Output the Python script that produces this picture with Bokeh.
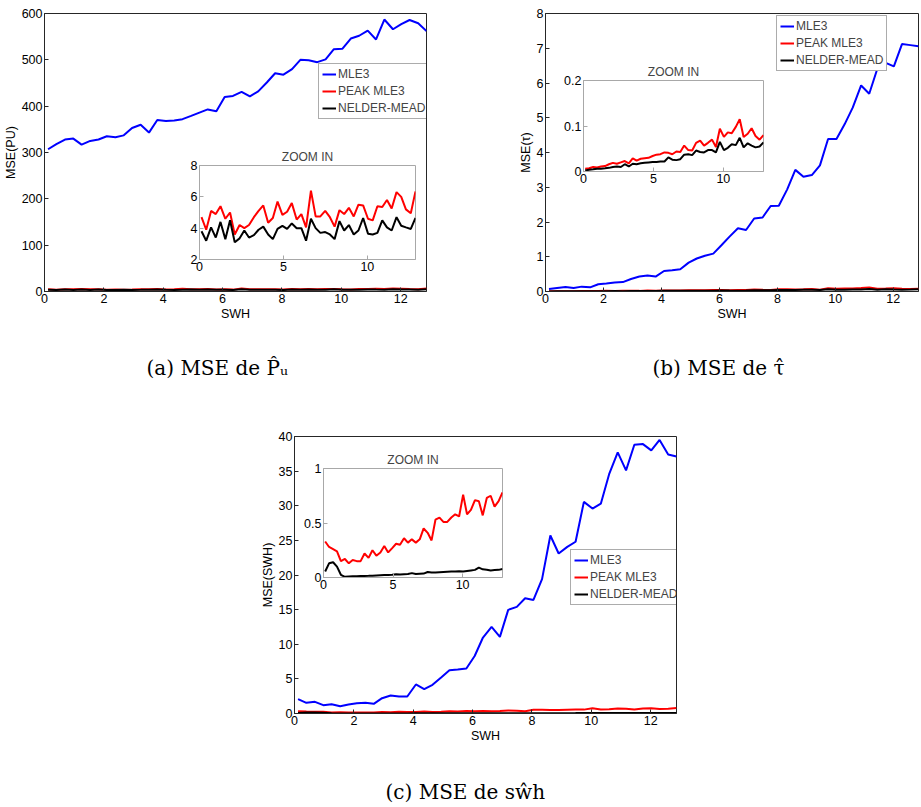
from bokeh.plotting import figure
from bokeh.models import (Range1d, Legend, LegendItem, Label,
                          FixedTicker, NumeralTickFormatter, Spacer)
from bokeh.layouts import column
from bokeh.embed import file_html
from bokeh.resources import INLINE

# ---------------- data ----------------
SWH = [0.12, 0.40, 0.69, 0.97, 1.25, 1.54, 1.82, 2.10, 2.39, 2.67, 2.95, 3.24,
       3.52, 3.80, 4.09, 4.37, 4.65, 4.94, 5.22, 5.50, 5.79, 6.07, 6.35, 6.64,
       6.92, 7.20, 7.49, 7.77, 8.05, 8.34, 8.62, 8.90, 9.19, 9.47, 9.75, 10.04,
       10.32, 10.60, 10.89, 11.17, 11.45, 11.74, 12.02, 12.30, 12.59, 12.87]

# (a) MSE of Pu
A_MLE3 = [307, 318, 328, 330, 317, 325, 328, 335, 333, 337, 353, 360, 343, 370,
          368, 369, 372, 379, 386, 393, 389, 420, 422, 431, 421, 432, 451, 471,
          468, 480, 500, 499, 495, 501, 523, 524, 546, 552, 563, 544, 587, 566,
          577, 586, 579, 562]
A_PEAK = [4.7, 3.9, 5.1, 4.9, 5.4, 4.6, 5.0, 3.6, 4.2, 4.0, 4.2, 4.7, 5.1, 5.45,
          4.35, 4.65, 5.7, 4.85, 5.05, 5.6, 4.55, 4.9, 4.05, 6.4, 4.75, 4.75, 5.1,
          4.7, 4.1, 5.15, 4.9, 5.3, 4.75, 5.5, 5.45, 4.6, 4.5, 5.4, 5.35, 5.8,
          5.25, 6.3, 6.0, 5.2, 4.95, 6.35]
A_NM = [3.8, 3.2, 4.05, 3.4, 4.4, 3.3, 4.5, 3.1, 3.35, 3.85, 3.4, 3.55, 3.9, 4.1,
        3.6, 3.3, 3.95, 4.15, 3.95, 4.3, 4.0, 4.0, 3.2, 4.6, 4.0, 3.7, 3.75, 3.6,
        3.3, 4.45, 3.85, 4.2, 3.6, 3.85, 4.65, 3.65, 3.6, 3.7, 4.5, 4.05, 3.85,
        4.7, 4.15, 4.05, 3.95, 4.65]

# (b) MSE of tau
B_MLE3 = [0.07, 0.10, 0.13, 0.10, 0.14, 0.12, 0.21, 0.23, 0.26, 0.27, 0.36, 0.43,
          0.46, 0.43, 0.59, 0.61, 0.64, 0.83, 0.95, 1.03, 1.09, 1.33, 1.58, 1.82,
          1.77, 2.10, 2.13, 2.46, 2.47, 2.94, 3.50, 3.30, 3.35, 3.63, 4.39, 4.39,
          4.81, 5.29, 5.93, 5.69, 6.41, 6.58, 6.48, 7.12, 7.09, 7.06]
B_PEAK = [0.006, 0.007, 0.010, 0.009, 0.011, 0.012, 0.016, 0.019, 0.017, 0.020,
          0.023, 0.018, 0.029, 0.024, 0.028, 0.029, 0.030, 0.034, 0.037, 0.038,
          0.042, 0.041, 0.038, 0.044, 0.043, 0.057, 0.047, 0.046, 0.063, 0.068,
          0.057, 0.063, 0.070, 0.054, 0.094, 0.076, 0.086, 0.084, 0.098, 0.115,
          0.076, 0.083, 0.095, 0.078, 0.070, 0.080]
B_NM = [0.002, 0.004, 0.005, 0.006, 0.006, 0.007, 0.008, 0.010, 0.011, 0.010,
        0.016, 0.011, 0.017, 0.016, 0.018, 0.019, 0.020, 0.021, 0.021, 0.022,
        0.022, 0.031, 0.026, 0.025, 0.027, 0.037, 0.038, 0.036, 0.046, 0.043,
        0.042, 0.047, 0.047, 0.042, 0.065, 0.047, 0.052, 0.060, 0.058, 0.074,
        0.053, 0.062, 0.057, 0.053, 0.055, 0.064]

# (c) MSE of swh
C_MLE3 = [2.07, 1.54, 1.68, 1.20, 1.35, 1.06, 1.30, 1.49, 1.54, 1.40, 2.21, 2.60,
          2.45, 2.45, 4.19, 3.51, 4.14, 5.20, 6.26, 6.35, 6.50, 8.30, 10.97, 12.50,
          11.07, 14.97, 15.40, 16.65, 16.40, 19.40, 25.70, 23.10, 24.06, 24.80,
          30.56, 29.60, 30.30, 34.55, 37.70, 35.10, 38.80, 38.90, 38.00, 39.50,
          37.40, 37.10]
C_PEAK = [0.33, 0.28, 0.26, 0.24, 0.15, 0.17, 0.13, 0.16, 0.15, 0.15, 0.22, 0.18,
          0.25, 0.20, 0.23, 0.29, 0.23, 0.27, 0.31, 0.30, 0.36, 0.32, 0.35, 0.32,
          0.35, 0.45, 0.41, 0.34, 0.53, 0.55, 0.51, 0.51, 0.55, 0.58, 0.56, 0.76,
          0.58, 0.62, 0.71, 0.70, 0.57, 0.73, 0.75, 0.65, 0.70, 0.78]
C_NM = [0.055, 0.13, 0.14, 0.10, 0.025, 0.006, 0.010, 0.012, 0.012, 0.013, 0.014,
        0.015, 0.016, 0.018, 0.020, 0.022, 0.024, 0.025, 0.030, 0.028, 0.030,
        0.032, 0.040, 0.032, 0.035, 0.036, 0.050, 0.045, 0.045, 0.048, 0.050,
        0.052, 0.054, 0.055, 0.058, 0.055, 0.060, 0.065, 0.070, 0.090, 0.075,
        0.072, 0.065, 0.068, 0.070, 0.078]

SERIES_NAMES = ["MLE3", "PEAK MLE3", "NELDER-MEAD"]
SERIES_COLORS = ["#0000ff", "#ff0000", "#000000"]
X_MAX = 12.87
MAIN_XTICKS = [0, 2, 4, 6, 8, 10, 12]
INSET_XTICKS = [0, 5, 10]
A_YTICKS = [0, 100, 200, 300, 400, 500, 600]
B_YTICKS = [0, 1, 2, 3, 4, 5, 6, 7, 8]
C_YTICKS = [0, 5, 10, 15, 20, 25, 30, 35, 40]
A_INSET_YTICKS = [2, 4, 6, 8]
B_INSET_YTICKS = [0, 0.1, 0.2]
C_INSET_YTICKS = [0, 0.5, 1]
X_LABEL = "SWH"
INSET_TITLE = "ZOOM IN"
CAPTIONS = ["(a)  MSE de P\u0302\u1d64", "(b)  MSE de \u03c4\u0302",
            "(c)  MSE de s\u0175h"]

FONT = "Liberation Sans"
SERIF = "DejaVu Serif"
MBL = 50   # left border shared by every figure (the column aligns frames)
MBR = 2    # right border shared by every figure


def place(p, page_left, page_top):
    p.styles = {"position": "absolute", "left": f"{page_left}px",
                "top": f"{page_top}px"}


def style_axis(ax, ticks, color, fmt=None):
    ax.ticker = FixedTicker(ticks=ticks)
    ax.axis_line_color = color
    ax.major_tick_line_color = color
    ax.major_tick_in = 4
    ax.major_tick_out = 0
    ax.minor_tick_line_color = None
    ax.major_label_text_font = FONT
    ax.major_label_text_font_size = "12.5px"
    ax.major_label_text_color = "black"
    ax.major_label_standoff = 2
    ax.axis_label_text_font = FONT
    ax.axis_label_text_font_size = "12.5px"
    ax.axis_label_text_font_style = "normal"
    ax.axis_label_text_color = "black"
    ax.axis_label_standoff = 1
    if fmt is not None:
        ax.formatter = fmt


def main_plot(fl, ft, fw, fh, ymax, yticks, ylabel, series, legend_xy):
    mbt, mbb = 10, 40
    p = figure(frame_width=fw, frame_height=fh, x_range=Range1d(0, X_MAX),
               y_range=Range1d(0, ymax), min_border_left=MBL, min_border_top=mbt,
               min_border_right=MBR, min_border_bottom=mbb,
               output_backend="svg", toolbar_location=None,
               background_fill_color="white", border_fill_color=None,
               outline_line_color="#262626")
    p.xgrid.visible = False
    p.ygrid.visible = False
    style_axis(p.xaxis[0], MAIN_XTICKS, "#262626")
    style_axis(p.yaxis[0], yticks, "#262626")
    p.xaxis[0].axis_label = X_LABEL
    p.yaxis[0].axis_label = ylabel
    rends = [p.line(SWH, ys, line_color=c, line_width=2)
             for ys, c in zip(series, SERIES_COLORS)]
    leg = Legend(items=[LegendItem(label=n, renderers=[r])
                        for n, r in zip(SERIES_NAMES, rends)],
                 location=legend_xy, glyph_width=14, glyph_height=14,
                 label_standoff=2, padding=3, spacing=3, margin=0,
                 label_height=14, label_text_font=FONT,
                 label_text_font_size="12px", border_line_color="#5a5a5a",
                 border_line_width=1, background_fill_color="white",
                 background_fill_alpha=1.0)
    p.add_layout(leg)
    place(p, fl - MBL, ft - mbt)
    return p


def inset_plot(fl, ft, fw, fh, ymin, ymax, yticks, series, fmt=None):
    mbt, mbb = 26, 22
    q = figure(frame_width=fw, frame_height=fh, x_range=Range1d(0, X_MAX),
               y_range=Range1d(ymin, ymax), min_border_left=MBL,
               min_border_top=mbt, min_border_right=MBR, min_border_bottom=mbb,
               output_backend="svg", toolbar_location=None, title=INSET_TITLE,
               background_fill_color="white", border_fill_color=None,
               outline_line_color="#a8a8a8")
    q.title.align = "center"
    q.title.text_font = FONT
    q.title.text_font_size = "12px"
    q.title.text_font_style = "normal"
    q.title.standoff = 4
    q.xgrid.visible = False
    q.ygrid.visible = False
    style_axis(q.xaxis[0], INSET_XTICKS, "#a8a8a8")
    style_axis(q.yaxis[0], yticks, "#a8a8a8", fmt=fmt)
    for ys, c in zip(series[1:], SERIES_COLORS[1:]):
        q.line(SWH, ys, line_color=c, line_width=2)
    place(q, fl - MBL, ft - mbt)
    return q


def caption_fig(text, left, center_y):
    h = 30
    c = figure(width=300, height=h, x_range=Range1d(0, 1), y_range=Range1d(0, 1),
               x_axis_location=None, y_axis_location=None, title=None,
               min_border_left=MBL, min_border_right=MBR, min_border_top=0,
               min_border_bottom=0, toolbar_location=None, output_backend="svg",
               outline_line_color=None, background_fill_color=None,
               border_fill_color=None)
    c.xgrid.visible = False
    c.ygrid.visible = False
    c.add_layout(Label(x=0, y=h / 2, x_units="screen", y_units="screen",
                       text=text, text_font=SERIF, text_font_size="20px",
                       text_baseline="middle", text_color="black"))
    place(c, left - MBL, center_y - h / 2)
    return c


fa = main_plot(44, 13, 382, 278, 600, A_YTICKS, "MSE(PU)",
               [A_MLE3, A_PEAK, A_NM], (274, 172))
fb = main_plot(545, 13, 373, 278, 8, B_YTICKS, "MSE(\u03c4)",
               [B_MLE3, B_PEAK, B_NM], (231, 220))
fc = main_plot(294, 436, 382, 277, 40, C_YTICKS, "MSE(SWH)",
               [C_MLE3, C_PEAK, C_NM], (276, 108))

ia = inset_plot(199, 165, 216, 94, 2, 8, A_INSET_YTICKS, [A_MLE3, A_PEAK, A_NM])
ib = inset_plot(583, 80, 180, 91, 0, 0.2, B_INSET_YTICKS, [B_MLE3, B_PEAK, B_NM],
                fmt=NumeralTickFormatter(format="0.[0]"))
ic = inset_plot(323, 468, 179, 109, 0, 1, C_INSET_YTICKS, [C_MLE3, C_PEAK, C_NM],
                fmt=NumeralTickFormatter(format="0.[0]"))

ca = caption_fig(CAPTIONS[0], 146, 367)
cb = caption_fig(CAPTIONS[1], 652, 367)
cc = caption_fig(CAPTIONS[2], 385, 791)

root = column(Spacer(width=905, height=791), fa, fb, fc, ia, ib, ic, ca, cb, cc)

open("out.html", "w").write(file_html(root, INLINE))
